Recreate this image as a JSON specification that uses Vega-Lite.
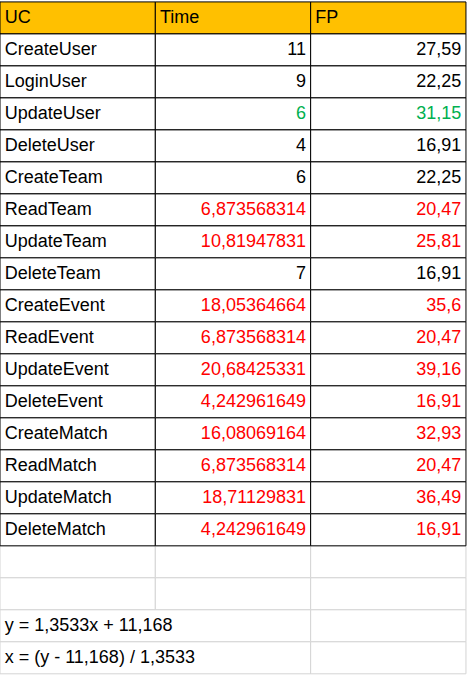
{
  "$schema": "https://vega.github.io/schema/vega-lite/v6.json",
  "width": 470,
  "height": 677,
  "padding": 0,
  "autosize": {"type": "none"},
  "background": "white",
  "config": {"view": {"stroke": null}, "text": {"font": "Liberation Sans", "fontSize": 18}},
  "datasets": {
    "cells": [
      {"row": 0, "col": 0, "t": "UC", "c": "h"}, {"row": 0, "col": 1, "t": "Time", "c": "h"}, {"row": 0, "col": 2, "t": "FP", "c": "h"},
      {"row": 1, "col": 0, "t": "CreateUser", "c": "k"}, {"row": 1, "col": 1, "t": "11", "c": "k"}, {"row": 1, "col": 2, "t": "27,59", "c": "k"},
      {"row": 2, "col": 0, "t": "LoginUser", "c": "k"}, {"row": 2, "col": 1, "t": "9", "c": "k"}, {"row": 2, "col": 2, "t": "22,25", "c": "k"},
      {"row": 3, "col": 0, "t": "UpdateUser", "c": "k"}, {"row": 3, "col": 1, "t": "6", "c": "g"}, {"row": 3, "col": 2, "t": "31,15", "c": "g"},
      {"row": 4, "col": 0, "t": "DeleteUser", "c": "k"}, {"row": 4, "col": 1, "t": "4", "c": "k"}, {"row": 4, "col": 2, "t": "16,91", "c": "k"},
      {"row": 5, "col": 0, "t": "CreateTeam", "c": "k"}, {"row": 5, "col": 1, "t": "6", "c": "k"}, {"row": 5, "col": 2, "t": "22,25", "c": "k"},
      {"row": 6, "col": 0, "t": "ReadTeam", "c": "k"}, {"row": 6, "col": 1, "t": "6,873568314", "c": "r"}, {"row": 6, "col": 2, "t": "20,47", "c": "r"},
      {"row": 7, "col": 0, "t": "UpdateTeam", "c": "k"}, {"row": 7, "col": 1, "t": "10,81947831", "c": "r"}, {"row": 7, "col": 2, "t": "25,81", "c": "r"},
      {"row": 8, "col": 0, "t": "DeleteTeam", "c": "k"}, {"row": 8, "col": 1, "t": "7", "c": "k"}, {"row": 8, "col": 2, "t": "16,91", "c": "k"},
      {"row": 9, "col": 0, "t": "CreateEvent", "c": "k"}, {"row": 9, "col": 1, "t": "18,05364664", "c": "r"}, {"row": 9, "col": 2, "t": "35,6", "c": "r"},
      {"row": 10, "col": 0, "t": "ReadEvent", "c": "k"}, {"row": 10, "col": 1, "t": "6,873568314", "c": "r"}, {"row": 10, "col": 2, "t": "20,47", "c": "r"},
      {"row": 11, "col": 0, "t": "UpdateEvent", "c": "k"}, {"row": 11, "col": 1, "t": "20,68425331", "c": "r"}, {"row": 11, "col": 2, "t": "39,16", "c": "r"},
      {"row": 12, "col": 0, "t": "DeleteEvent", "c": "k"}, {"row": 12, "col": 1, "t": "4,242961649", "c": "r"}, {"row": 12, "col": 2, "t": "16,91", "c": "r"},
      {"row": 13, "col": 0, "t": "CreateMatch", "c": "k"}, {"row": 13, "col": 1, "t": "16,08069164", "c": "r"}, {"row": 13, "col": 2, "t": "32,93", "c": "r"},
      {"row": 14, "col": 0, "t": "ReadMatch", "c": "k"}, {"row": 14, "col": 1, "t": "6,873568314", "c": "r"}, {"row": 14, "col": 2, "t": "20,47", "c": "r"},
      {"row": 15, "col": 0, "t": "UpdateMatch", "c": "k"}, {"row": 15, "col": 1, "t": "18,71129831", "c": "r"}, {"row": 15, "col": 2, "t": "36,49", "c": "r"},
      {"row": 16, "col": 0, "t": "DeleteMatch", "c": "k"}, {"row": 16, "col": 1, "t": "4,242961649", "c": "r"}, {"row": 16, "col": 2, "t": "16,91", "c": "r"}
    ],
    "blank": [
      {"row": 17, "c0": 0, "c1": 1}, {"row": 17, "c0": 1, "c1": 2}, {"row": 17, "c0": 2, "c1": 3},
      {"row": 18, "c0": 0, "c1": 1}, {"row": 18, "c0": 1, "c1": 2}, {"row": 18, "c0": 2, "c1": 3},
      {"row": 19, "c0": 0, "c1": 2, "t": "y = 1,3533x + 11,168"}, {"row": 19, "c0": 2, "c1": 3},
      {"row": 20, "c0": 0, "c1": 2, "t": "x = (y - 11,168) / 1,3533"}, {"row": 20, "c0": 2, "c1": 3}
    ]
  },
  "layer": [
    {
      "data": {"name": "blank"},
      "transform": [{"calculate": "datum.row + 1", "as": "row2"}],
      "mark": {"type": "rect", "fill": "white", "stroke": "#d4d4d4", "strokeWidth": 1},
      "encoding": {
        "x": {"field": "c0", "type": "quantitative", "scale": {"domain": [0, 3.026], "range": [0, 470], "nice": false, "zero": false}, "axis": null},
        "x2": {"field": "c1"},
        "y": {"field": "row", "type": "quantitative", "scale": {"domain": [-0.06, 21.1], "range": [0, 677], "nice": false, "zero": false}, "axis": null},
        "y2": {"field": "row2"}
      }
    },
    {
      "data": {"name": "blank"},
      "transform": [{"filter": "datum.t"}, {"calculate": "datum.row + 0.5", "as": "ym"}, {"calculate": "datum.c0 + 0.03", "as": "xm"}],
      "mark": {"type": "text", "align": "left", "baseline": "middle", "color": "black"},
      "encoding": {
        "x": {"field": "xm", "type": "quantitative", "scale": {"domain": [0, 3.026], "range": [0, 470], "nice": false, "zero": false}, "axis": null},
        "y": {"field": "ym", "type": "quantitative", "scale": {"domain": [-0.06, 21.1], "range": [0, 677], "nice": false, "zero": false}, "axis": null},
        "text": {"field": "t"}
      }
    },
    {
      "data": {"name": "cells"},
      "transform": [{"calculate": "datum.row + 1", "as": "row2"}, {"calculate": "datum.col + 1", "as": "col2"}],
      "mark": {"type": "rect", "stroke": "black", "strokeWidth": 1},
      "encoding": {
        "x": {"field": "col", "type": "quantitative", "scale": {"domain": [0, 3.026], "range": [0, 470], "nice": false, "zero": false}, "axis": null},
        "x2": {"field": "col2"},
        "y": {"field": "row", "type": "quantitative", "scale": {"domain": [-0.06, 21.1], "range": [0, 677], "nice": false, "zero": false}, "axis": null},
        "y2": {"field": "row2"},
        "fill": {"condition": {"test": "datum.row == 0", "value": "#FFC000"}, "value": "white"}
      }
    },
    {
      "data": {"name": "cells"},
      "transform": [{"filter": "datum.row == 0 || datum.col == 0"}, {"calculate": "datum.row + 0.5", "as": "ym"}, {"calculate": "datum.col + 0.03", "as": "xm"}],
      "mark": {"type": "text", "align": "left", "baseline": "middle"},
      "encoding": {
        "x": {"field": "xm", "type": "quantitative", "scale": {"domain": [0, 3.026], "range": [0, 470], "nice": false, "zero": false}, "axis": null},
        "y": {"field": "ym", "type": "quantitative", "scale": {"domain": [-0.06, 21.1], "range": [0, 677], "nice": false, "zero": false}, "axis": null},
        "text": {"field": "t"},
        "fontWeight": {"condition": {"test": "datum.row == 0", "value": "bold"}, "value": "normal"},
        "color": {"value": "black"}
      }
    },
    {
      "data": {"name": "cells"},
      "transform": [{"filter": "datum.row > 0 && datum.col > 0"}, {"calculate": "datum.row + 0.5", "as": "ym"}, {"calculate": "datum.col + 0.97", "as": "xm"}],
      "mark": {"type": "text", "align": "right", "baseline": "middle"},
      "encoding": {
        "x": {"field": "xm", "type": "quantitative", "scale": {"domain": [0, 3.026], "range": [0, 470], "nice": false, "zero": false}, "axis": null},
        "y": {"field": "ym", "type": "quantitative", "scale": {"domain": [-0.06, 21.1], "range": [0, 677], "nice": false, "zero": false}, "axis": null},
        "text": {"field": "t"},
        "color": {"field": "c", "type": "nominal", "scale": {"domain": ["k", "g", "r"], "range": ["black", "#00B050", "#FF0000"]}, "legend": null}
      }
    }
  ]
}
